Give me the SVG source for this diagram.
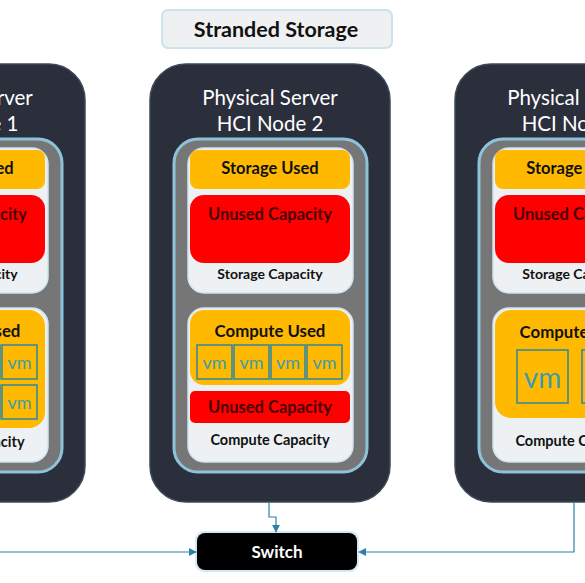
<svg xmlns="http://www.w3.org/2000/svg" width="585" height="583" viewBox="0 0 585 583">
<defs>
<style>
.server{fill:#2b2e3b;stroke:#3b4a5a;stroke-width:1.5}
.tray{fill:#767676;stroke:#8cc3da;stroke-width:3}
.card{fill:#eef1f3;stroke:#cfe4ee;stroke-width:1.5}
.used{fill:#ffb900}
.unused{fill:#ff0000}
.vm{fill:none;stroke:#3a8a98;stroke-width:1.6}
text{font-family:Lato,"Liberation Sans",sans-serif;text-anchor:middle;dominant-baseline:central}
.title{fill:#ffffff;font-size:20.5px}
.b{font-weight:bold;fill:#111111}
.r{font-weight:bold;fill:#4a0000}
.vt{fill:#3c9cab;font-size:18px}
.wire{fill:none;stroke:#2e80a8;stroke-width:1.2}
</style>
<marker id="ah" viewBox="0 0 10 10" refX="9" refY="5" markerWidth="8" markerHeight="8" orient="auto" markerUnits="userSpaceOnUse">
<path d="M0,0 L10,5 L0,10 z" fill="#2e80a8"/>
</marker>
</defs>
<rect width="585" height="583" fill="#ffffff"/>

<g id="title">
<rect x="162" y="10" width="230" height="38" rx="6" fill="#eef0f2" stroke="#cde3ec" stroke-width="2"/>
<text x="276" y="29" class="b" style="font-size:21.5px">Stranded Storage</text>
</g>

<g id="node1" transform="translate(-305,0)">
<rect class="server" x="150" y="64" width="240" height="438" rx="36"/>
<text class="title" x="270" y="97">Physical Server</text>
<text class="title" x="270" y="123">HCI Node 1</text>
<rect class="tray" x="174" y="139" width="193" height="333" rx="24"/>
<rect class="card" x="188" y="148" width="165" height="145" rx="16"/>
<rect class="used" x="190" y="150" width="160" height="39" rx="8"/>
<text class="b" x="270" y="168" style="font-size:16.5px">Storage Used</text>
<rect class="unused" x="190" y="195" width="160" height="68" rx="14"/>
<text class="r" x="270" y="214" style="font-size:16.5px">Unused Capacity</text>
<text class="b" x="270" y="273" style="font-size:14px">Storage Capacity</text>
<rect class="card" x="188" y="308" width="165" height="154" rx="16"/>
<rect class="used" x="190" y="310" width="160" height="118" rx="16"/>
<text class="b" x="270" y="330" style="font-size:16.8px">Compute Used</text>
<rect class="vm" x="197" y="345" width="35" height="34"/><text class="vt" x="214.5" y="362">vm</text>
<rect class="vm" x="234" y="345" width="35" height="34"/><text class="vt" x="251.5" y="362">vm</text>
<rect class="vm" x="271" y="345" width="34" height="34"/><text class="vt" x="288" y="362">vm</text>
<rect class="vm" x="307" y="345" width="35" height="34"/><text class="vt" x="324.5" y="362">vm</text>
<rect class="vm" x="197" y="385" width="35" height="34"/><text class="vt" x="214.5" y="402">vm</text>
<rect class="vm" x="234" y="385" width="35" height="34"/><text class="vt" x="251.5" y="402">vm</text>
<rect class="vm" x="271" y="385" width="34" height="34"/><text class="vt" x="288" y="402">vm</text>
<rect class="vm" x="307" y="385" width="35" height="34"/><text class="vt" x="324.5" y="402">vm</text>
<text class="b" x="270" y="441" style="font-size:14.5px">Compute Capacity</text>
</g>

<g id="node2">
<rect class="server" x="150" y="64" width="240" height="438" rx="36"/>
<text class="title" x="270" y="97">Physical Server</text>
<text class="title" x="270" y="123">HCI Node 2</text>
<rect class="tray" x="174" y="139" width="193" height="333" rx="24"/>
<rect class="card" x="188" y="148" width="165" height="145" rx="16"/>
<rect class="used" x="190" y="150" width="160" height="39" rx="8"/>
<text class="b" x="270" y="168" style="font-size:16.5px">Storage Used</text>
<rect class="unused" x="190" y="195" width="160" height="68" rx="14"/>
<text class="r" x="270" y="214" style="font-size:16.5px">Unused Capacity</text>
<text class="b" x="270" y="273" style="font-size:14px">Storage Capacity</text>
<rect class="card" x="188" y="308" width="165" height="154" rx="16"/>
<rect class="used" x="190" y="310" width="160" height="75" rx="14"/>
<text class="b" x="270" y="330" style="font-size:16.8px">Compute Used</text>
<rect class="vm" x="197" y="345" width="35" height="34"/><text class="vt" x="214.5" y="362">vm</text>
<rect class="vm" x="234" y="345" width="35" height="34"/><text class="vt" x="251.5" y="362">vm</text>
<rect class="vm" x="271" y="345" width="34" height="34"/><text class="vt" x="288" y="362">vm</text>
<rect class="vm" x="307" y="345" width="35" height="34"/><text class="vt" x="324.5" y="362">vm</text>
<rect class="unused" x="190" y="391" width="160" height="32" rx="5"/>
<text class="r" x="270" y="407" style="font-size:16.5px">Unused Capacity</text>
<text class="b" x="270" y="439" style="font-size:14.5px">Compute Capacity</text>
</g>

<g id="node3" transform="translate(305,0)">
<rect class="server" x="150" y="64" width="240" height="438" rx="36"/>
<text class="title" x="270" y="97">Physical Server</text>
<text class="title" x="270" y="123">HCI Node 3</text>
<rect class="tray" x="174" y="139" width="193" height="333" rx="24"/>
<rect class="card" x="188" y="148" width="165" height="145" rx="16"/>
<rect class="used" x="190" y="150" width="160" height="39" rx="8"/>
<text class="b" x="270" y="168" style="font-size:16.5px">Storage Used</text>
<rect class="unused" x="190" y="195" width="160" height="68" rx="14"/>
<text class="r" x="270" y="214" style="font-size:16.5px">Unused Capacity</text>
<text class="b" x="270" y="273" style="font-size:14px">Storage Capacity</text>
<rect class="card" x="188" y="308" width="165" height="154" rx="16"/>
<rect class="used" x="190" y="310" width="160" height="108" rx="16"/>
<text class="b" x="270" y="331" style="font-size:16.8px">Compute Used</text>
<rect class="vm" x="212" y="350" width="51" height="53"/><text class="vt" x="237.5" y="377" style="font-size:28px">vm</text>
<rect class="vm" x="277" y="350" width="51" height="53"/><text class="vt" x="302.5" y="377" style="font-size:28px">vm</text>
<text class="b" x="270" y="440" style="font-size:14.5px">Compute Capacity</text>
</g>

<g id="switch">
<rect x="195" y="531" width="164" height="41" rx="9" fill="#d4e8f0"/>
<rect x="197" y="533" width="160" height="37" rx="8" fill="#000000"/>
<text x="277" y="551" style="font-size:17px;font-weight:bold;fill:#ffffff">Switch</text>
</g>

<g id="connectors">
<path class="wire" d="M269,502 V517 H276 V532" marker-end="url(#ah)"/>
<path class="wire" d="M-40,502 V552 H196" marker-end="url(#ah)"/>
<path class="wire" d="M574,502 V552 H359" marker-end="url(#ah)"/>
</g>
</svg>
